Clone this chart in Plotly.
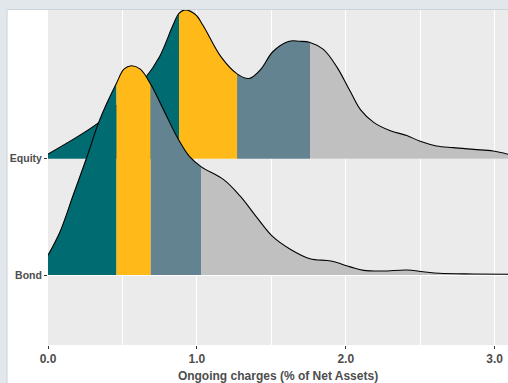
import plotly.graph_objects as go

# categories (bottom to top) and ridge positions
categories = ["Bond", "Equity"]

# density outlines (x = ongoing charge %, h = ridge height)
equity_x = [0.00, 0.34, 0.49, 0.65, 0.75, 0.84, 0.88, 0.92, 0.99, 1.04, 1.16, 1.27, 1.35, 1.43,
            1.51, 1.62, 1.69, 1.76, 1.85, 1.94, 2.03, 2.10, 2.19, 2.30, 2.41, 2.50, 2.61, 2.72,
            2.86, 2.99, 3.09]
equity_h = [0.04, 0.31, 0.49, 0.69, 0.88, 1.15, 1.25, 1.28, 1.24, 1.15, 0.88, 0.73, 0.69, 0.77,
            0.92, 1.01, 1.01, 1.00, 0.94, 0.79, 0.58, 0.42, 0.31, 0.24, 0.20, 0.15, 0.11, 0.095,
            0.08, 0.066, 0.038]

bond_x = [0.00, 0.08, 0.17, 0.26, 0.34, 0.40, 0.46, 0.51, 0.56, 0.62, 0.69, 0.78, 0.87, 0.95,
          1.03, 1.18, 1.29, 1.40, 1.51, 1.63, 1.76, 1.90, 2.03, 2.12, 2.25, 2.41, 2.52, 2.63,
          2.86, 3.09]
bond_h = [0.17, 0.37, 0.69, 1.01, 1.31, 1.49, 1.65, 1.77, 1.80, 1.77, 1.64, 1.41, 1.18, 1.02,
          0.93, 0.82, 0.68, 0.50, 0.33, 0.22, 0.14, 0.12, 0.07, 0.04, 0.034, 0.043, 0.028, 0.015,
          0.009, 0.006]

# quartile cut points
equity_q = [0.88, 1.27, 1.76]
bond_q = [0.46, 0.69, 1.03]

x_ticks = [0, 1, 2, 3]
quart_colors = ["#006B70", "#FFBA19", "#62838F", "#C0C0C0"]

FONT = "Liberation Sans, Arial, Helvetica, sans-serif"

fig = go.Figure()


def add_ridge(xs, hs, qs, base):
    ys = [base + h for h in hs]
    bounds = [xs[0]] + qs + [xs[-1]]
    for i in range(4):
        lo, hi = bounds[i], bounds[i + 1]
        sx = [x for x in xs if lo <= x <= hi]
        sy = [y for x, y in zip(xs, ys) if lo <= x <= hi]
        # baseline for this segment, then the curve filled down to it
        fig.add_trace(go.Scatter(x=[lo, hi], y=[base, base], mode="lines",
                                 line=dict(width=0), hoverinfo="skip", showlegend=False))
        fig.add_trace(go.Scatter(x=sx, y=sy, mode="lines", fill="tonexty",
                                 fillcolor=quart_colors[i],
                                 line=dict(width=0, shape="spline"),
                                 hoverinfo="skip", showlegend=False))
    fig.add_trace(go.Scatter(x=xs, y=ys, mode="lines",
                             line=dict(color="black", width=1.1, shape="spline"),
                             hoverinfo="skip", showlegend=False))


add_ridge(equity_x, equity_h, equity_q, 2)
add_ridge(bond_x, bond_h, bond_q, 1)

# white card on the bluish page, and the grey panel
fig.add_shape(type="rect", xref="paper", yref="paper", x0=-0.089, x1=1.1, y0=-0.3, y1=1.0015,
              fillcolor="white", line=dict(color="#C9D3D9", width=1), layer="below")
fig.add_shape(type="rect", xref="paper", yref="paper", x0=0, x1=1, y0=0, y1=1,
              fillcolor="#EBEBEB", line=dict(width=0), layer="below")

fig.update_layout(
    width=508, height=383,
    margin=dict(l=48, r=0, t=10, b=38),
    paper_bgcolor="#E2E7EB",
    plot_bgcolor="rgba(0,0,0,0)",
    font=dict(family=FONT, color="#4D4D4D"),
    showlegend=False,
    xaxis=dict(
        range=[0, 3.09], tickvals=x_ticks, tickformat=".1f",
        showgrid=True, gridcolor="white", gridwidth=1.1,
        minor=dict(dtick=0.5, showgrid=True, gridcolor="white", gridwidth=0.6),
        zeroline=False, showline=False,
        ticks="outside", ticklen=3, tickcolor="#333333", tickwidth=1,
        tickfont=dict(size=12, weight="bold", color="#4D4D4D"),
        title=dict(text="Ongoing charges (% of Net Assets)", standoff=6,
                   font=dict(size=12, weight="bold", color="#4D4D4D")),
        automargin=False, fixedrange=True,
    ),
    yaxis=dict(
        range=[0.398, 3.279], tickvals=[1, 2], ticktext=categories,
        showgrid=True, gridcolor="white", gridwidth=1.1,
        zeroline=False, showline=False,
        ticks="outside", ticklen=3, tickcolor="#333333", tickwidth=1,
        tickfont=dict(size=10.5, weight="bold", color="#4D4D4D"),
        automargin=False, fixedrange=True,
    ),
)

fig.write_html("out.html", config={"displayModeBar": False},
               post_script="document.body.style.margin='0';document.body.style.overflow='hidden';")
